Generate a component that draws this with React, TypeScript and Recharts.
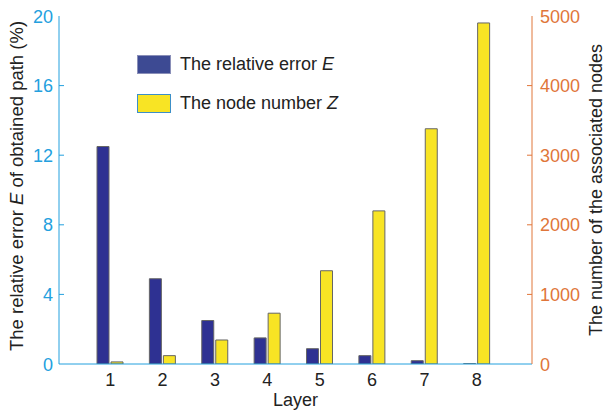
import { ComposedChart, Bar, XAxis, YAxis } from "recharts";

const layers = ["1", "2", "3", "4", "5", "6", "7", "8"];
const relativeError = [12.5, 4.9, 2.5, 1.5, 0.88, 0.48, 0.19, 0.02];
const nodeNumber = [30, 120, 345, 730, 1340, 2200, 3380, 4900];
const leftTicks = [0, 4, 8, 12, 16, 20];
const rightTicks = [0, 1000, 2000, 3000, 4000, 5000];

const data = layers.map((layer, i) => ({
  layer,
  error: relativeError[i],
  nodes: nodeNumber[i],
}));

const FONT = "'Liberation Sans', Arial, sans-serif";
const FS = 18;
const BLUE_AXIS = "#23a0de";
const ORANGE_AXIS = "#e0763a";
const NAVY = "#2e3192";
const YELLOW = "#f8e424";
const MARGIN_L = 6;
const MARGIN_R = 8;

function LeftTick(props: any) {
  const { x, y, payload } = props;
  const axisX = x + MARGIN_L;
  return (
    <g>
      <text x={x} y={y} dy={6.5} textAnchor="end" fill={BLUE_AXIS} fontSize={FS} fontFamily={FONT}>
        {payload.value}
      </text>
      {payload.value !== 0 && payload.value !== 20 ? (
        <line x1={axisX} x2={axisX + 5} y1={y} y2={y} stroke={BLUE_AXIS} />
      ) : null}
    </g>
  );
}

function RightTick(props: any) {
  const { x, y, payload } = props;
  const axisX = x - MARGIN_R;
  return (
    <g>
      <text x={x} y={y} dy={6.5} textAnchor="start" fill={ORANGE_AXIS} fontSize={FS} fontFamily={FONT}>
        {payload.value}
      </text>
      {payload.value !== 0 && payload.value !== 5000 ? (
        <line x1={axisX - 5} x2={axisX} y1={y} y2={y} stroke={ORANGE_AXIS} />
      ) : null}
    </g>
  );
}

function TopTick(props: any) {
  const { x, y } = props;
  return <line x1={x} x2={x} y1={y} y2={y + 5} stroke="#888" />;
}

function LeftLabel(props: any) {
  const { viewBox } = props;
  const cy = viewBox.y + viewBox.height / 2 - 4;
  const cx = 23;
  return (
    <text
      x={cx}
      y={cy}
      transform={`rotate(-90 ${cx} ${cy})`}
      textAnchor="middle"
      fill="#222"
      fontSize={18.5}
      fontFamily={FONT}
    >
      The relative error <tspan fontStyle="italic">E</tspan> of obtained path (%)
    </text>
  );
}

function RightLabel(props: any) {
  const { viewBox } = props;
  const cy = viewBox.y + viewBox.height / 2;
  const cx = 602;
  return (
    <text
      x={cx}
      y={cy}
      transform={`rotate(-90 ${cx} ${cy})`}
      textAnchor="middle"
      fill="#222"
      fontSize={FS}
      fontFamily={FONT}
    >
      The number of the associated nodes
    </text>
  );
}

function BottomLabel(props: any) {
  const { viewBox } = props;
  return (
    <text
      x={viewBox.x + viewBox.width / 2}
      y={406}
      textAnchor="middle"
      fill="#222"
      fontSize={FS}
      fontFamily={FONT}
    >
      Layer
    </text>
  );
}

function LegendBox() {
  const items = [
    { fill: "#3d4a93", stroke: "#8a8fb8", name: "The relative error ", sym: "E" },
    { fill: YELLOW, stroke: "#3c8fc8", name: "The node number ", sym: "Z" },
  ];
  return (
    <div
      style={{
        position: "absolute",
        top: 55,
        left: 137,
        fontFamily: FONT,
        fontSize: FS,
        color: "#222",
        whiteSpace: "nowrap",
      }}
    >
      {items.map((it, i) => (
        <div key={i} style={{ display: "flex", alignItems: "center", height: 18, marginBottom: i === 0 ? 21 : 0 }}>
          <div
            style={{
              width: 32,
              height: 17,
              background: it.fill,
              border: `1px solid ${it.stroke}`,
              marginRight: 9,
            }}
          />
          <span>
            {it.name}
            <i>{it.sym}</i>
          </span>
        </div>
      ))}
    </div>
  );
}

export default function App() {
  return (
    <div style={{ position: "relative", width: 605, height: 414, background: "#fff" }}>
      <style>{`body{margin:0}`}</style>
      <ComposedChart
        width={605}
        height={414}
        data={data}
        margin={{ top: 16, right: 0, bottom: 0, left: 0 }}
        barSize={12}
        barGap={2}
      >
        <XAxis
          xAxisId="b"
          dataKey="layer"
          height={50}
          padding={{ left: 25, right: 29 }}
          axisLine={{ stroke: BLUE_AXIS }}
          tickLine={false}
          tickSize={0}
          tickMargin={9}
          tick={{ fill: "#222", fontSize: FS, fontFamily: FONT }}
          label={<BottomLabel />}
        />
        <XAxis
          xAxisId="t"
          dataKey="layer"
          orientation="top"
          height={0}
          padding={{ left: 25, right: 29 }}
          axisLine={{ stroke: "#8c8c8c" }}
          tickLine={false}
          tickSize={0}
          tickMargin={0}
          tick={<TopTick />}
        />
        <YAxis
          yAxisId="l"
          width={59}
          domain={[0, 20]}
          ticks={leftTicks}
          allowDataOverflow
          axisLine={{ stroke: BLUE_AXIS }}
          tickLine={false}
          tickSize={0}
          tickMargin={MARGIN_L}
          tick={<LeftTick />}
          label={<LeftLabel />}
        />
        <YAxis
          yAxisId="r"
          orientation="right"
          width={73}
          domain={[0, 5000]}
          ticks={rightTicks}
          allowDataOverflow
          axisLine={{ stroke: ORANGE_AXIS }}
          tickLine={false}
          tickSize={0}
          tickMargin={MARGIN_R}
          tick={<RightTick />}
          label={<RightLabel />}
        />
        <Bar
          xAxisId="b"
          yAxisId="l"
          dataKey="error"
          name="The relative error E"
          fill={NAVY}
          stroke="#666"
          strokeWidth={1}
          isAnimationActive={false}
        />
        <Bar
          xAxisId="b"
          yAxisId="r"
          dataKey="nodes"
          name="The node number Z"
          fill={YELLOW}
          stroke="#666"
          strokeWidth={1}
          isAnimationActive={false}
        />
      </ComposedChart>
      <LegendBox />
    </div>
  );
}
